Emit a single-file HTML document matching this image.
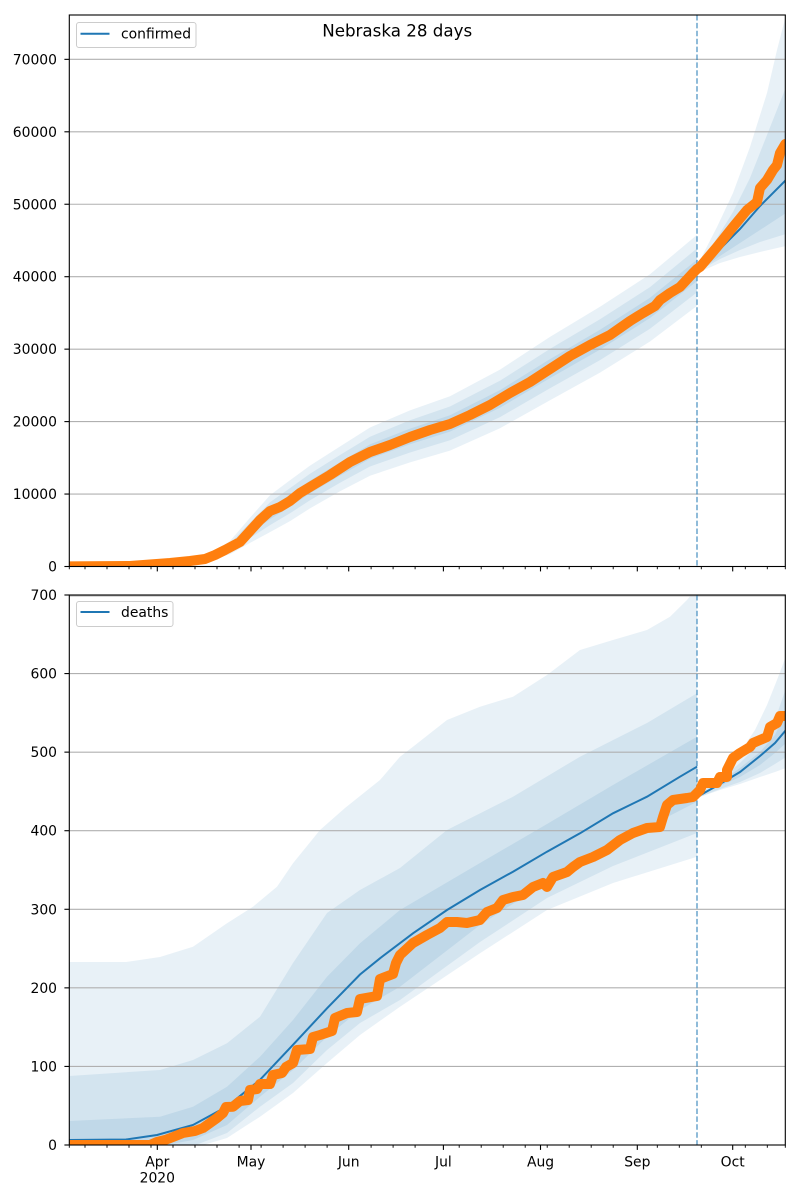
<!DOCTYPE html>
<html>
<head>
<meta charset="utf-8">
<style>
html,body{margin:0;padding:0;background:#fff;}
svg{display:block;}
text{font-family:"DejaVu Sans","Liberation Sans",sans-serif;fill:#000;}
</style>
</head>
<body>
<svg width="800" height="1200" viewBox="0 0 800 1200" xmlns="http://www.w3.org/2000/svg">
<defs>
<clipPath id="c1"><rect x="69.3" y="15" width="716" height="551.5"/></clipPath>
<clipPath id="c2"><rect x="69.3" y="595" width="716" height="550"/></clipPath>
</defs>
<rect x="0" y="0" width="800" height="1200" fill="#fff"/>

<!-- ================= TOP CHART ================= -->
<g clip-path="url(#c1)">
<!-- fit bands -->
<polygon fill="#1f77b4" fill-opacity="0.1" points="69.3,566.4 140,565.4 180,561.0 210,553.7 230,541.0 250,517.7 270,495.3 290,480.3 310,465.6 340,446.5 370,427.5 410,410.4 450,396.2 500,369.6 550,336.9 600,306.8 650,274.3 697,234.9 697,305.9 650,341.5 600,372.6 550,400.3 500,428.2 450,450.6 410,462.4 370,475.7 340,491.3 310,508.4 290,521.1 270,532.1 250,542.9 230,554.2 210,560.3 180,563.8 140,566.0 69.3,566.4"/>
<polygon fill="#1f77b4" fill-opacity="0.1" points="69.3,566.4 140,565.5 180,561.5 210,555.0 230,543.5 250,522.5 270,502.3 290,488.1 310,473.7 340,455.0 370,436.7 410,420.3 450,406.5 500,380.7 550,348.9 600,319.3 650,287.1 697,248.4 697,292.4 650,328.7 600,360.1 550,388.3 500,417.1 450,440.3 410,452.5 370,466.5 340,482.8 310,500.3 290,513.3 270,525.1 250,538.1 230,551.7 210,559.0 180,563.3 140,565.9 69.3,566.4"/>
<polygon fill="#1f77b4" fill-opacity="0.1" points="69.3,566.4 140,565.6 180,562.0 210,556.0 230,545.6 250,526.5 270,508.2 290,494.6 310,480.6 340,462.2 370,444.4 410,428.6 450,415.2 500,390.1 550,359.1 600,329.8 650,297.8 697,259.7 697,281.1 650,318.0 600,349.6 550,378.1 500,407.7 450,431.6 410,444.2 370,458.8 340,475.6 310,493.4 290,506.8 270,519.2 250,534.1 230,549.6 210,558.0 180,562.8 140,565.8 69.3,566.4"/>
<!-- forecast bands -->
<polygon fill="#1f77b4" fill-opacity="0.1" points="697,266 717,227 733,193 750,147 767,93 777,50 786,15 786,246 760,252 740,257 720,263 697,273"/>
<polygon fill="#1f77b4" fill-opacity="0.1" points="697,268 717,238 733,212 750,178 767,135 786,87 786,234 760,242 740,250 720,259 697,272"/>
<polygon fill="#1f77b4" fill-opacity="0.1" points="697,269 720,243 740,217 760,188 786,144 786,213 760,230 740,243 720,256 697,272"/>
</g>
<!-- grid top -->
<g stroke="#b0b0b0" stroke-width="1.1">
<line x1="69.3" x2="785.3" y1="566.5" y2="566.5"/>
<line x1="69.3" x2="785.3" y1="494.05" y2="494.05"/>
<line x1="69.3" x2="785.3" y1="421.6" y2="421.6"/>
<line x1="69.3" x2="785.3" y1="349.15" y2="349.15"/>
<line x1="69.3" x2="785.3" y1="276.7" y2="276.7"/>
<line x1="69.3" x2="785.3" y1="204.25" y2="204.25"/>
<line x1="69.3" x2="785.3" y1="131.8" y2="131.8"/>
<line x1="69.3" x2="785.3" y1="59.35" y2="59.35"/>
</g>
<g clip-path="url(#c1)">
<polyline fill="none" stroke="#1f77b4" stroke-width="2" points="69.3,566.4 140,565.7 180,562.4 210,557.0 230,547.6 250,530.3 270,513.7 290,500.7 310,487.0 340,468.9 370,451.6 410,436.4 450,423.4 500,398.9 550,368.6 600,339.7 650,307.9 697,270.4"/>
<polyline fill="none" stroke="#1f77b4" stroke-width="2" points="697,271 720,249 740,229 760,206 786,180"/>
<line x1="697" x2="697" y1="15" y2="566.5" stroke="#1f77b4" stroke-opacity="0.5" stroke-width="2" stroke-dasharray="5.5 2.4"/>
<polyline fill="none" stroke="#ff7f0e" stroke-width="10" stroke-linecap="round" stroke-linejoin="round" points="69.3,566.4 130,566 150,564.5 170,563 190,561 205,559 215,555 225,550 240,542 250,531 260,520 270,511 280,507 290,501 300,493 310,487 330,475 350,462 370,452 390,445 410,437 430,430 450,424 470,415 490,405 510,393 530,382 550,369 570,356 590,345 610,335 630,321 643,313 655,306 660,300 670,293 680,287 693,273 697,269 700,267 717,247 733,227 747,210 757,202 760,188 767,180 773,170 777,165 780,153 785.3,144"/>
</g>
<!-- top spines -->
<rect x="69.3" y="15" width="716" height="551.5" fill="none" stroke="#000" stroke-width="1.1"/>

<!-- ================= BOTTOM CHART ================= -->
<g clip-path="url(#c2)">
<polygon fill="#1f77b4" fill-opacity="0.1" points="69.3,962 126,962 160,957 193,946.7 227,923.3 253,906.7 277,886.7 293,863.3 320,830 345,808 380,780 400,756.7 413,746.7 447,720 480,706.7 513,696.7 547,675 580,650 613,640 647,630 670,616.7 687,600 697,588 697,856.7 613,883 547,910 480,953.3 400,1006.7 360,1035 327,1063 293,1093 260,1116.7 227,1138 200,1146 69.3,1146"/>
<polygon fill="#1f77b4" fill-opacity="0.1" points="69.3,1076 160,1070 193,1060 227,1043.3 260,1016.7 293,963 327,913 360,890 400,868 447,830 513,796.7 580,756.7 647,723 697,693.3 697,833 613,866 547,898 480,942 400,1000 360,1023 327,1050 293,1083 260,1106.7 227,1133 193,1146 69.3,1146"/>
<polygon fill="#1f77b4" fill-opacity="0.1" points="69.3,1121 160,1116.7 193,1106.7 227,1086.7 260,1056.7 293,1020 327,976.7 360,943.3 400,910 480,863 547,824 613,785 697,736.7 697,801.7 613,845 547,882 480,925 400,986.7 360,1010 327,1036.7 293,1070 260,1096.7 227,1125 193,1140 160,1146 69.3,1146"/>
<polygon fill="#1f77b4" fill-opacity="0.1" points="697,796 720,775 740,752 755,730 767,705 777,680 786,656 786,768 775,772 760,777 740,784 720,790 697,798"/>
<polygon fill="#1f77b4" fill-opacity="0.1" points="697,796 720,779 740,763 760,743 775,720 786,688 786,757 775,764 760,773 740,782 720,789 697,798"/>
<polygon fill="#1f77b4" fill-opacity="0.1" points="697,797 720,782 740,768 760,752 775,735 786,712 786,743 775,753 760,765 740,777 720,786 697,797"/>
</g>
<g stroke="#b0b0b0" stroke-width="1.1">
<line x1="69.3" x2="785.3" y1="1145" y2="1145"/>
<line x1="69.3" x2="785.3" y1="1066.43" y2="1066.43"/>
<line x1="69.3" x2="785.3" y1="987.86" y2="987.86"/>
<line x1="69.3" x2="785.3" y1="909.29" y2="909.29"/>
<line x1="69.3" x2="785.3" y1="830.71" y2="830.71"/>
<line x1="69.3" x2="785.3" y1="752.14" y2="752.14"/>
<line x1="69.3" x2="785.3" y1="673.57" y2="673.57"/>
<line x1="69.3" x2="785.3" y1="596" y2="596"/>
</g>
<g clip-path="url(#c2)">
<polyline fill="none" stroke="#1f77b4" stroke-width="2" points="69.3,1140 126,1139.5 157,1135 193,1125 227,1106.5 260,1079.8 293,1044.8 327,1008.3 360,974.5 380,958.3 413,933.3 447,910 480,890 513,871.7 547,851.7 580,833.3 613,813.3 647,796.7 680,776.7 697,766.7"/>
<polyline fill="none" stroke="#1f77b4" stroke-width="2" points="697,797 720,784 740,772 760,756 775,743 786,730"/>
<line x1="697" x2="697" y1="595" y2="1145" stroke="#1f77b4" stroke-opacity="0.5" stroke-width="2" stroke-dasharray="5.5 2.4"/>
<polyline fill="none" stroke="#ff7f0e" stroke-width="10" stroke-linecap="round" stroke-linejoin="round" points="69.3,1145 150,1145 157,1142 165,1140 173,1137 183,1133 195,1131 203,1128 210,1123 217,1118 223,1113 226,1107 233,1106.7 240,1101 248,1100 250,1090 257,1089 260,1084 270,1084 273,1075 282,1073 286,1067 293,1063 297,1050 310,1049 313,1037 320,1035 332,1031 335,1018 347,1013 357,1012 360,999 377,996 380,979 393,974 396,963 400,955 413,943 427,935 440,928 447,922 457,922 467,923 480,920 487,912 497,908 503,900 513,897 523,895 533,887 543,883 547,887 553,877 567,872 573,867 580,862 593,857 607,850 620,840 633,833 647,828 660,827 663,817 667,805 673,800 687,798 693,797 700,790 703,783 717,783 720,777 727,777 727,770 733,758 740,753 750,747 753,743 767,737 770,727 777,723 780,716 785.3,716"/>
</g>
<rect x="69.3" y="595" width="716" height="550" fill="none" stroke="#000" stroke-width="1.1"/>

<!-- ================= TICKS ================= -->
<!-- y ticks top -->
<g stroke="#000" stroke-width="1.1">
<line x1="64.4" x2="69.3" y1="566.5" y2="566.5"/>
<line x1="64.4" x2="69.3" y1="494.05" y2="494.05"/>
<line x1="64.4" x2="69.3" y1="421.6" y2="421.6"/>
<line x1="64.4" x2="69.3" y1="349.15" y2="349.15"/>
<line x1="64.4" x2="69.3" y1="276.7" y2="276.7"/>
<line x1="64.4" x2="69.3" y1="204.25" y2="204.25"/>
<line x1="64.4" x2="69.3" y1="131.8" y2="131.8"/>
<line x1="64.4" x2="69.3" y1="59.35" y2="59.35"/>
<line x1="64.4" x2="69.3" y1="1145" y2="1145"/>
<line x1="64.4" x2="69.3" y1="1066.43" y2="1066.43"/>
<line x1="64.4" x2="69.3" y1="987.86" y2="987.86"/>
<line x1="64.4" x2="69.3" y1="909.29" y2="909.29"/>
<line x1="64.4" x2="69.3" y1="830.71" y2="830.71"/>
<line x1="64.4" x2="69.3" y1="752.14" y2="752.14"/>
<line x1="64.4" x2="69.3" y1="673.57" y2="673.57"/>
<line x1="64.4" x2="69.3" y1="595" y2="595"/>
</g>
<g font-size="13.9" text-anchor="end">
<text x="57" y="571.5">0</text>
<text x="57" y="499">10000</text>
<text x="57" y="426.6">20000</text>
<text x="57" y="354.2">30000</text>
<text x="57" y="281.7">40000</text>
<text x="57" y="209.3">50000</text>
<text x="57" y="136.8">60000</text>
<text x="57" y="64.4">70000</text>
<text x="57" y="1150">0</text>
<text x="57" y="1071.4">100</text>
<text x="57" y="992.9">200</text>
<text x="57" y="914.3">300</text>
<text x="57" y="835.7">400</text>
<text x="57" y="757.1">500</text>
<text x="57" y="678.6">600</text>
<text x="57" y="600">700</text>
</g>

<!-- x ticks: major -->
<g stroke="#000" stroke-width="1.1">
<line x1="157.3" x2="157.3" y1="566.5" y2="571.4"/>
<line x1="251" x2="251" y1="566.5" y2="571.4"/>
<line x1="348.7" x2="348.7" y1="566.5" y2="571.4"/>
<line x1="443.4" x2="443.4" y1="566.5" y2="571.4"/>
<line x1="540.5" x2="540.5" y1="566.5" y2="571.4"/>
<line x1="637.3" x2="637.3" y1="566.5" y2="571.4"/>
<line x1="732.7" x2="732.7" y1="566.5" y2="571.4"/>
<line x1="157.3" x2="157.3" y1="1145" y2="1149.9"/>
<line x1="251" x2="251" y1="1145" y2="1149.9"/>
<line x1="348.7" x2="348.7" y1="1145" y2="1149.9"/>
<line x1="443.4" x2="443.4" y1="1145" y2="1149.9"/>
<line x1="540.5" x2="540.5" y1="1145" y2="1149.9"/>
<line x1="637.3" x2="637.3" y1="1145" y2="1149.9"/>
<line x1="732.7" x2="732.7" y1="1145" y2="1149.9"/>
</g>
<!-- x ticks: minor (top) -->
<g stroke="#000" stroke-width="0.9">
<path d="M69.3 566.5v2.8M85 566.5v2.8M107 566.5v2.8M129 566.5v2.8M151 566.5v2.8M173 566.5v2.8M195 566.5v2.8M217 566.5v2.8M239.1 566.5v2.8M261.1 566.5v2.8M283.1 566.5v2.8M305.1 566.5v2.8M327.1 566.5v2.8M371.1 566.5v2.8M393.1 566.5v2.8M415.1 566.5v2.8M459.2 566.5v2.8M481.2 566.5v2.8M503.2 566.5v2.8M525.2 566.5v2.8M547.2 566.5v2.8M569.2 566.5v2.8M591.2 566.5v2.8M613.2 566.5v2.8M657.3 566.5v2.8M679.3 566.5v2.8M701.3 566.5v2.8M745.3 566.5v2.8M767.3 566.5v2.8M785.3 566.5v2.8"/>
<path d="M69.3 1145v2.8M85 1145v2.8M107 1145v2.8M129 1145v2.8M151 1145v2.8M173 1145v2.8M195 1145v2.8M217 1145v2.8M239.1 1145v2.8M261.1 1145v2.8M283.1 1145v2.8M305.1 1145v2.8M327.1 1145v2.8M371.1 1145v2.8M393.1 1145v2.8M415.1 1145v2.8M459.2 1145v2.8M481.2 1145v2.8M503.2 1145v2.8M525.2 1145v2.8M547.2 1145v2.8M569.2 1145v2.8M591.2 1145v2.8M613.2 1145v2.8M657.3 1145v2.8M679.3 1145v2.8M701.3 1145v2.8M745.3 1145v2.8M767.3 1145v2.8M785.3 1145v2.8"/>
</g>
<g font-size="13.9" text-anchor="middle">
<text x="157.3" y="1166.5">Apr</text>
<text x="157.3" y="1182.5">2020</text>
<text x="251" y="1166.5">May</text>
<text x="348.7" y="1166.5">Jun</text>
<text x="443.4" y="1166.5">Jul</text>
<text x="540.5" y="1166.5">Aug</text>
<text x="637.3" y="1166.5">Sep</text>
<text x="732.7" y="1166.5">Oct</text>
</g>

<!-- ================= LEGENDS ================= -->
<rect x="76.5" y="22.5" width="119.5" height="25" rx="2.5" ry="2.5" fill="#fff" fill-opacity="0.8" stroke="#cccccc" stroke-width="1"/>
<line x1="80.5" x2="109.5" y1="33.7" y2="33.7" stroke="#1f77b4" stroke-width="2"/>
<text x="121" y="38.5" font-size="13.9">confirmed</text>

<rect x="76.5" y="601.5" width="96.5" height="25" rx="2.5" ry="2.5" fill="#fff" fill-opacity="0.8" stroke="#cccccc" stroke-width="1"/>
<line x1="80.5" x2="109.5" y1="612" y2="612" stroke="#1f77b4" stroke-width="2"/>
<text x="121" y="617" font-size="13.9">deaths</text>

<!-- title -->
<text x="397.2" y="36.7" font-size="16.7" text-anchor="middle">Nebraska 28 days</text>
</svg>
</body>
</html>
